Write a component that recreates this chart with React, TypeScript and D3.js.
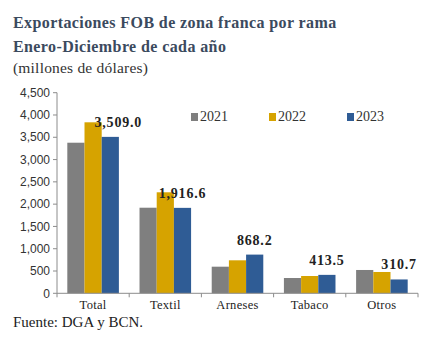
import React from "react";
import * as d3 from "d3";

const categories = ["Total", "Textil", "Arneses", "Tabaco", "Otros"];
const years = ["2021", "2022", "2023"];
const v2021 = [3378, 1920, 597, 343, 523];
const v2022 = [3836, 2266, 740, 388, 478];
const v2023 = [3509.0, 1916.6, 868.2, 413.5, 310.7];
const yTicks = [0, 500, 1000, 1500, 2000, 2500, 3000, 3500, 4000, 4500];
const colors = ["#7f7f7f", "#d6a300", "#2f5c95"];

const series = [v2021, v2022, v2023];

const serif = { fontFamily: "Liberation Serif" };
const sans = { fontFamily: "Liberation Sans" };

const App: React.FC = () => {
  const left = 57;
  const right = 418;
  const top = 92.7;
  const bottom = 293.3;

  const x = d3.scaleBand<string>().domain(categories).range([left, right]);
  const inner = d3
    .scaleBand<string>()
    .domain(years)
    .range([0, x.bandwidth()])
    .paddingOuter(0.6)
    .paddingInner(0);
  const y = d3.scaleLinear().domain([0, 4500]).range([bottom, top]);

  const fmt = d3.format(",.1f");

  return (
    <svg
      width={431}
      height={353}
      style={{ position: "absolute", left: 0, top: 0, background: "#fff" }}
    >
      {/* titles */}
      <text x={13} y={28} style={serif} fontWeight="bold" fontSize={16} letterSpacing={0.4} fill="#3b4a5e">
        Exportaciones FOB de zona franca por rama
      </text>
      <text x={13} y={52} style={serif} fontWeight="bold" fontSize={16} letterSpacing={0.4} fill="#3b4a5e">
        Enero-Diciembre de cada año
      </text>
      <text x={13} y={73} style={serif} fontSize={15.5} letterSpacing={0.2} fill="#333">
        (millones de dólares)
      </text>

      {/* y axis */}
      <line x1={left} x2={left} y1={top} y2={bottom} stroke="#8c8c8c" />
      {yTicks.map((t) => (
        <g key={t}>
          <line x1={left - 4} x2={left} y1={y(t)} y2={y(t)} stroke="#8c8c8c" />
          <text
            x={left - 7}
            y={y(t)}
            dy="0.35em"
            textAnchor="end"
            style={sans}
            fontSize={12}
            fill="#333"
          >
            {d3.format(",")(t)}
          </text>
        </g>
      ))}

      {/* bars */}
      {categories.map((c, i) => (
        <g key={c} transform={`translate(${x(c)},0)`}>
          {years.map((yr, j) => (
            <rect
              key={yr}
              x={inner(yr)}
              y={y(series[j][i])}
              width={inner.bandwidth()}
              height={bottom - y(series[j][i])}
              fill={colors[j]}
            />
          ))}
          <text
            x={(inner("2023") ?? 0) + inner.bandwidth() / 2 + (c === "Total" ? 8 : 0)}
            y={y(v2023[i]) - 10}
            textAnchor="middle"
            style={serif}
            fontWeight="bold"
            fontSize={14}
            letterSpacing={0.8}
            fill="#222"
          >
            {fmt(v2023[i])}
          </text>
          <text
            x={x.bandwidth() / 2}
            y={309}
            textAnchor="middle"
            style={serif}
            fontSize={12.5}
            letterSpacing={0.3}
            fill="#222"
          >
            {c}
          </text>
        </g>
      ))}

      {/* x axis */}
      <line x1={left} x2={right} y1={bottom} y2={bottom} stroke="#8c8c8c" />
      {d3.range(categories.length + 1).map((k) => {
        const xx = left + k * x.bandwidth();
        return <line key={k} x1={xx} x2={xx} y1={bottom} y2={bottom + 4} stroke="#8c8c8c" />;
      })}

      {/* legend */}
      {years.map((yr, j) => (
        <g key={yr} transform={`translate(${191 + j * 78},0)`}>
          <rect x={0} y={113} width={7} height={8} fill={colors[j]} />
          <text x={9} y={121} style={serif} fontSize={14} fill="#333">
            {yr}
          </text>
        </g>
      ))}

      <text x={13} y={327} style={serif} fontSize={15} fill="#222">
        Fuente: DGA y BCN.
      </text>
    </svg>
  );
};

export default App;
